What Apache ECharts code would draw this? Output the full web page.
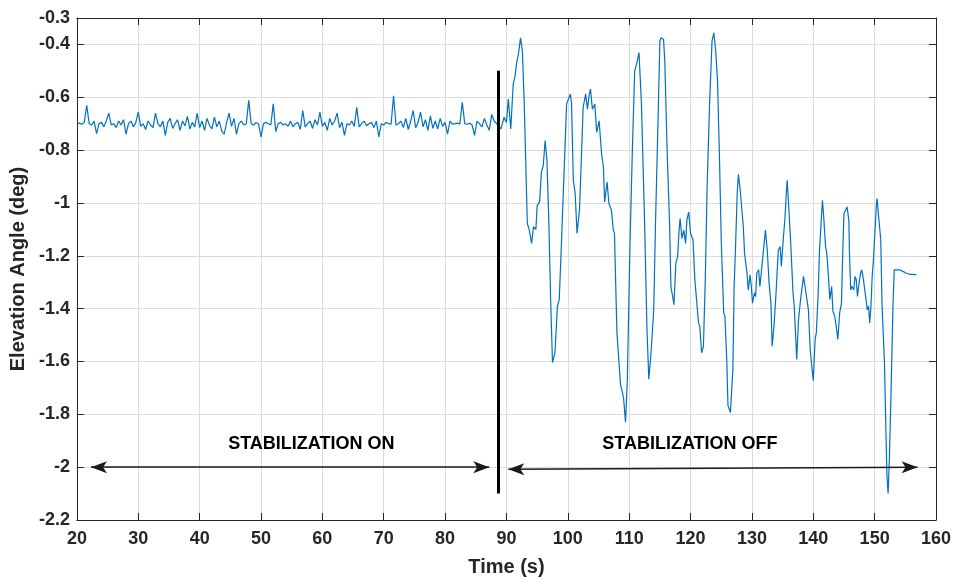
<!DOCTYPE html>
<html>
<head>
<meta charset="utf-8">
<script src="https://cdn.jsdelivr.net/npm/echarts@6/dist/echarts.min.js"></script>
<style>
html, body { margin: 0; padding: 0; background: #fff; }
#chart { width: 960px; height: 586px; }
</style>
</head>
<body>
<div id="chart"></div>
<script>
// stabilization on: sampled every 0.4 s from 20 s
var onStart = 20, onStep = 0.4;
var onAngle = [
	-0.700,-0.698,-0.702,-0.695,-0.631,-0.700,-0.705,-0.690,-0.738,-0.700,
	-0.695,-0.712,-0.688,-0.660,-0.705,-0.700,-0.715,-0.690,-0.705,-0.685,
	-0.740,-0.700,-0.690,-0.712,-0.695,-0.656,-0.710,-0.700,-0.722,-0.690,
	-0.705,-0.715,-0.660,-0.700,-0.712,-0.690,-0.744,-0.695,-0.680,-0.718,
	-0.700,-0.685,-0.725,-0.690,-0.708,-0.672,-0.720,-0.695,-0.712,-0.660,
	-0.715,-0.690,-0.725,-0.680,-0.705,-0.720,-0.675,-0.712,-0.690,-0.728,
	-0.740,-0.695,-0.660,-0.710,-0.680,-0.740,-0.700,-0.690,-0.705,-0.700,
	-0.612,-0.700,-0.705,-0.695,-0.702,-0.750,-0.700,-0.695,-0.700,-0.705,
	-0.625,-0.730,-0.700,-0.695,-0.705,-0.700,-0.710,-0.690,-0.712,-0.700,
	-0.695,-0.722,-0.650,-0.712,-0.700,-0.690,-0.718,-0.685,-0.705,-0.656,
	-0.710,-0.695,-0.725,-0.680,-0.705,-0.690,-0.660,-0.715,-0.695,-0.744,
	-0.700,-0.705,-0.690,-0.710,-0.638,-0.712,-0.700,-0.690,-0.708,-0.700,
	-0.695,-0.715,-0.690,-0.750,-0.700,-0.705,-0.695,-0.700,-0.702,-0.594,
	-0.705,-0.700,-0.690,-0.715,-0.680,-0.722,-0.690,-0.650,-0.715,-0.695,
	-0.656,-0.712,-0.685,-0.725,-0.670,-0.718,-0.690,-0.720,-0.680,-0.710,
	-0.695,-0.740,-0.690,-0.702,-0.700,-0.698,-0.702,-0.619,-0.700,-0.702,
	-0.698,-0.705,-0.744,-0.690,-0.700,-0.712,-0.680,-0.705,-0.725,-0.665,
	-0.690,-0.700
];

// stabilization off
var offTime = [
	88.6,89.1,89.6,90.0,90.3,90.7,91.1,91.4,91.7,91.9,92.3,92.6,92.9,93.4,93.7,94.1,94.4,94.8,95.0,95.4,
	95.7,96.0,96.3,96.6,96.9,97.2,97.5,97.9,98.3,98.6,98.9,99.4,99.8,100.0,100.4,100.6,100.9,101.2,101.5,101.9,
	102.2,102.5,102.9,103.2,103.5,103.7,104.0,104.4,104.7,105.1,105.5,105.8,106.0,106.4,106.7,107.1,107.4,107.6,108.0,108.6,
	108.9,109.1,109.4,109.7,110.1,110.5,110.9,111.2,111.6,112.0,112.5,112.9,113.2,113.6,114.0,114.3,114.7,115.0,115.2,115.6,
	115.8,116.2,116.6,116.8,117.0,117.3,117.6,117.9,118.1,118.3,118.6,118.9,119.2,119.4,119.7,120.0,120.4,120.7,121.0,121.3,
	121.5,121.8,122.1,122.4,122.7,123.1,123.5,123.8,124.1,124.4,124.7,125.0,125.4,125.6,125.9,126.1,126.5,126.7,126.9,127.1,
	127.3,127.6,127.8,128.1,128.3,128.6,128.8,129.2,129.4,129.7,129.9,130.1,130.4,130.6,130.8,131.1,131.3,131.6,131.9,132.2,
	132.5,132.8,133.1,133.3,133.6,133.9,134.3,134.6,134.8,135.1,135.4,135.6,135.75,136.0,136.3,136.7,136.9,137.3,137.6,137.9,
	138.1,138.4,138.7,138.9,139.2,139.5,139.8,140.0,140.3,140.5,140.8,141.0,141.3,141.5,141.7,142.0,142.2,142.5,142.7,143.0,
	143.2,143.5,143.7,144.0,144.3,144.6,144.8,145.0,145.3,145.5,145.8,145.9,146.1,146.3,146.6,146.8,147.0,147.2,147.4,147.7,
	147.9,148.1,148.4,148.6,148.8,149.0,149.2,149.4,149.6,149.8,150.1,150.3,150.4,150.7,151.0,151.2,151.6,151.8,152.0,152.2,
	152.4,152.7,153.0,153.2,153.5,154.1,154.6,155.2,155.7,156.2,156.8
];
var offAngle = [
	-0.700,-0.720,-0.676,-0.695,-0.607,-0.720,-0.550,-0.520,-0.463,-0.444,-0.375,-0.425,-0.626,-1.078,-1.100,-1.153,-1.090,-1.100,-1.010,-0.996,
	-0.883,-0.858,-0.764,-0.839,-1.065,-1.366,-1.604,-1.567,-1.391,-1.366,-1.190,-0.877,-0.626,-0.613,-0.588,-0.620,-0.914,-0.965,-1.115,-1.027,
	-0.839,-0.638,-0.588,-0.645,-0.588,-0.569,-0.645,-0.626,-0.733,-0.689,-0.814,-0.864,-0.996,-0.921,-1.002,-1.027,-1.100,-1.115,-1.490,-1.690,
	-1.717,-1.742,-1.830,-1.667,-1.190,-0.814,-0.500,-0.475,-0.431,-0.626,-1.065,-1.479,-1.667,-1.554,-1.404,-1.065,-0.689,-0.387,-0.375,-0.381,
	-0.463,-0.814,-1.090,-1.316,-1.310,-1.385,-1.228,-1.203,-1.115,-1.059,-1.134,-1.103,-1.153,-1.065,-1.034,-1.115,-1.140,-1.290,-1.297,-1.454,
	-1.466,-1.567,-1.542,-1.290,-0.940,-0.626,-0.387,-0.356,-0.425,-0.538,-0.814,-1.140,-1.416,-1.429,-1.592,-1.767,-1.793,-1.799,-1.629,-1.316,
	-1.190,-0.965,-0.892,-0.953,-0.958,-1.090,-1.190,-1.266,-1.329,-1.272,-1.316,-1.379,-1.341,-1.354,-1.266,-1.253,-1.316,-1.247,-1.240,-1.103,
	-1.178,-1.303,-1.379,-1.542,-1.466,-1.354,-1.178,-1.165,-1.240,-1.140,-1.052,-0.965,-0.914,-1.015,-1.140,-1.341,-1.391,-1.592,-1.441,-1.372,
	-1.372,-1.278,-1.322,-1.329,-1.404,-1.554,-1.629,-1.673,-1.516,-1.491,-1.341,-1.190,-1.065,-0.990,-1.052,-1.165,-1.190,-1.290,-1.366,-1.316,
	-1.410,-1.429,-1.460,-1.517,-1.416,-1.379,-1.190,-1.040,-1.034,-1.015,-1.065,-1.190,-1.329,-1.316,-1.329,-1.278,-1.290,-1.354,-1.316,-1.266,
	-1.253,-1.278,-1.284,-1.366,-1.404,-1.391,-1.454,-1.391,-1.278,-1.215,-1.090,-1.002,-0.983,-1.065,-1.140,-1.379,-1.604,-1.818,-2.031,-2.100,
	-1.969,-1.692,-1.379,-1.253,-1.247,-1.253,-1.259,-1.266,-1.270,-1.270,-1.272
];

// switch-over marker and arrows
var switchTime = 88.6, switchFrom = -2.1, switchTo = -0.5;
var arrowStart = [[22.3, -2.0], [90.3, -2.008]];
var arrowEnd = [[87.2, -2.0], [157.0, -2.0]];
var noteText = ['STABILIZATION ON', 'STABILIZATION OFF'];
var noteTime = [58.2, 119.9];
var noteAngle = [-1.914, -1.912];

var xTicks = { min: 20, max: 160, interval: 10 };
var yTicks = { min: -2.2, max: -0.3, interval: 0.2 };

var font = '"Liberation Sans", Arial, Helvetica, sans-serif';
var axisCol = '#262626';

var lineData = [];
for (var i = 0; i < onAngle.length; i++) {
	lineData.push([+(onStart + i * onStep).toFixed(2), onAngle[i]]);
}
for (var j = 0; j < offTime.length; j++) {
	lineData.push([offTime[j], offAngle[j]]);
}

var arrowLines = [];
for (var k = 0; k < arrowStart.length; k++) {
	arrowLines.push([{ coord: arrowStart[k] }, { coord: arrowEnd[k] }]);
}
var notes = [];
for (var n = 0; n < noteText.length; n++) {
	notes.push([noteTime[n], noteAngle[n], noteText[n]]);
}

var chart = echarts.init(document.getElementById('chart'));
var option = {
	animation: false,
	backgroundColor: '#fff',
	grid: { left: 75, top: 18, right: 24, bottom: 66 },
	xAxis: [{
		type: 'value',
		min: xTicks.min, max: xTicks.max, interval: xTicks.interval,
		name: 'Time (s)',
		nameLocation: 'middle',
		nameGap: 37,
		nameTextStyle: { fontFamily: font, fontWeight: 'bold', fontSize: 20, color: axisCol },
		axisLine: { show: true, onZero: false, lineStyle: { color: axisCol, width: 1 } },
		axisTick: { show: true, inside: true, length: 7, lineStyle: { color: axisCol } },
		axisLabel: { fontFamily: font, fontWeight: 'bold', fontSize: 18, color: axisCol, margin: 10 },
		splitLine: { show: true, lineStyle: { color: '#dcdcdc', width: 1 } }
	}, {
		type: 'value', position: 'top',
		min: xTicks.min, max: xTicks.max, interval: xTicks.interval,
		axisLine: { show: true, onZero: false, lineStyle: { color: axisCol, width: 1 } },
		axisTick: { show: true, inside: true, length: 7, lineStyle: { color: axisCol } },
		axisLabel: { show: false },
		splitLine: { show: false }
	}],
	yAxis: [{
		type: 'value',
		min: yTicks.min, max: yTicks.max, interval: yTicks.interval,
		name: 'Elevation Angle (deg)',
		nameLocation: 'middle',
		nameGap: 43,
		nameTextStyle: { fontFamily: font, fontWeight: 'bold', fontSize: 20, color: axisCol },
		axisLine: { show: true, onZero: false, lineStyle: { color: axisCol, width: 1 } },
		axisTick: { show: true, inside: true, length: 7, lineStyle: { color: axisCol } },
		axisLabel: { fontFamily: font, fontWeight: 'bold', fontSize: 18, color: axisCol, margin: 7 },
		splitLine: { show: true, lineStyle: { color: '#dcdcdc', width: 1 } }
	}, {
		type: 'value', position: 'right',
		min: yTicks.min, max: yTicks.max, interval: yTicks.interval,
		axisLine: { show: true, onZero: false, lineStyle: { color: axisCol, width: 1 } },
		axisTick: { show: true, inside: true, length: 7, lineStyle: { color: axisCol } },
		axisLabel: { show: false },
		splitLine: { show: false }
	}],
	series: [{
		name: 'angle',
		type: 'line',
		data: lineData,
		showSymbol: false,
		sampling: null,
		lineStyle: { color: '#0072bd', width: 1.2 },
		z: 3
	}, {
		name: 'switch',
		type: 'line',
		data: [],
		markLine: {
			silent: true,
			symbol: ['none', 'none'],
			label: { show: false },
			lineStyle: { color: '#000', width: 3, type: 'solid' },
			data: [[{ coord: [switchTime, switchFrom] }, { coord: [switchTime, switchTo] }]]
		},
		z: 4
	}, {
		name: 'arrows',
		type: 'line',
		data: [],
		markLine: {
			silent: true,
			symbol: ['arrow', 'arrow'],
			symbolSize: [9, 16],
			label: { show: false },
			lineStyle: { color: '#1a1a1a', width: 1.5, type: 'solid' },
			data: arrowLines
		},
		z: 4
	}, {
		name: 'notes',
		type: 'scatter',
		data: notes,
		symbolSize: 0,
		itemStyle: { opacity: 1, color: '#000' },
		label: {
			show: true,
			position: 'inside',
			formatter: function (p) { return p.value[2]; },
			fontFamily: font,
			fontWeight: 'bold',
			fontSize: 18,
			color: '#000',
			textBorderWidth: 0
		},
		z: 5
	}]
};
chart.setOption(option);
</script>
</body>
</html>
